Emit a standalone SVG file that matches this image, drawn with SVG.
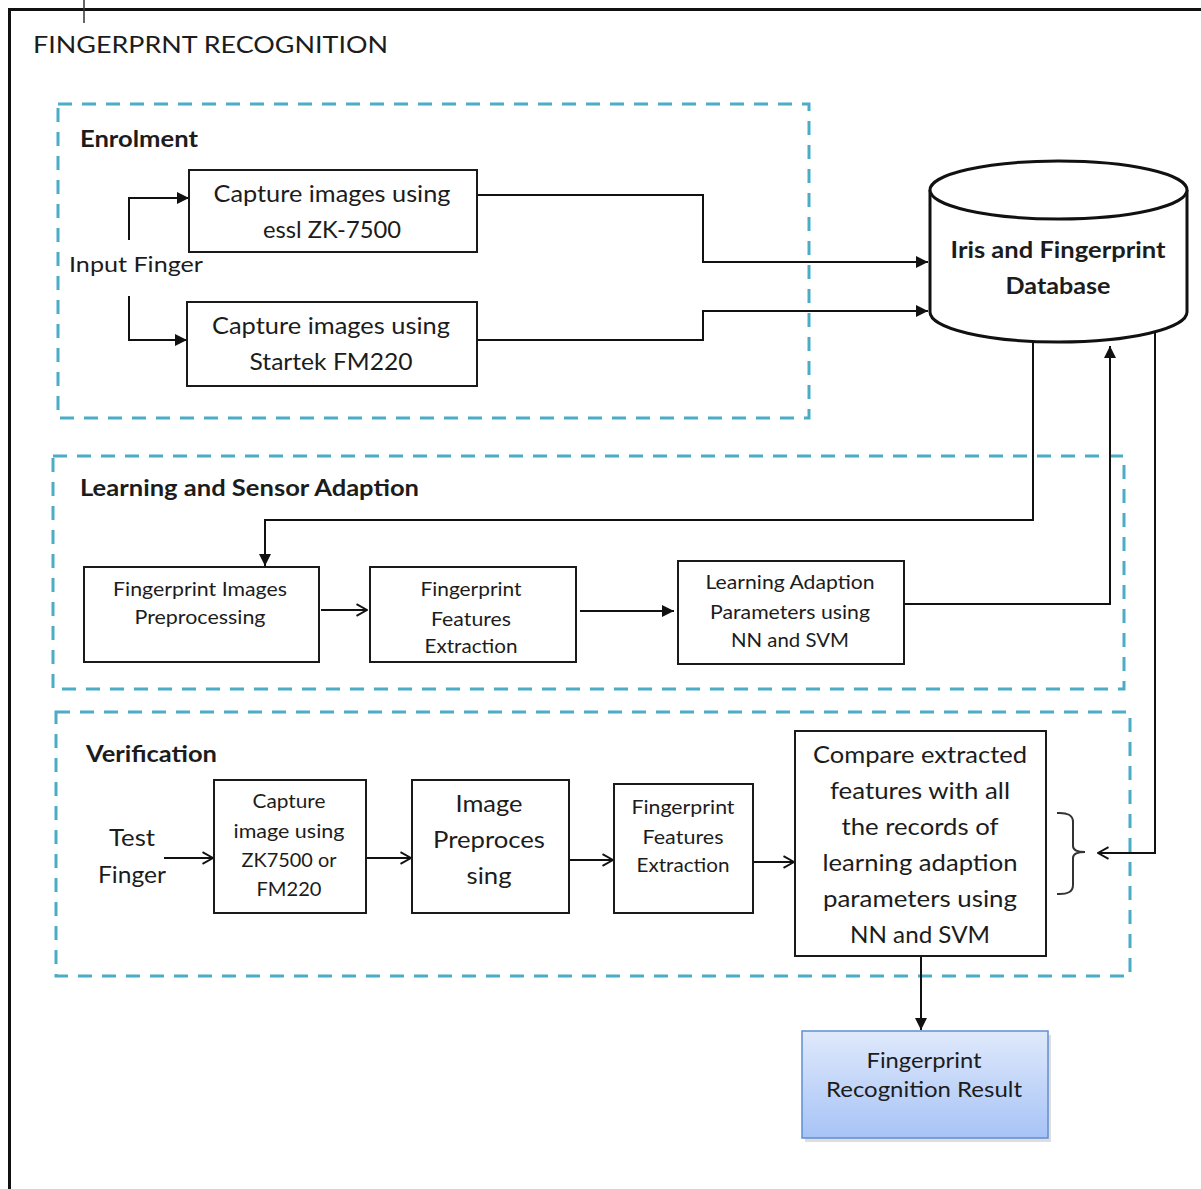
<svg xmlns="http://www.w3.org/2000/svg" width="1201" height="1189" viewBox="0 0 1201 1189">
<defs>
<style>
text{font-family:Lato,"Open Sans","Liberation Sans",sans-serif;fill:#1c1c1c}
.t{font-size:23px;text-anchor:middle}
.s{font-size:19px;text-anchor:middle}
.b{font-weight:bold;font-size:22px}
.box{fill:#fff;stroke:#1a1a1a;stroke-width:2}
.dash{fill:none;stroke:#4bacc6;stroke-width:3;stroke-dasharray:14 10}
.c{fill:none;stroke:#111;stroke-width:2}
</style>
<marker id="fa" viewBox="0 0 10 10" refX="10" refY="5" markerWidth="6" markerHeight="6" markerUnits="userSpaceOnUse" orient="auto"><path d="M0,0 L10,5 L0,10 z" fill="#111"/></marker>
<marker id="fa2" viewBox="0 0 10 10" refX="10" refY="5" markerWidth="14" markerHeight="12" markerUnits="userSpaceOnUse" orient="auto"><path d="M0,0 L10,5 L0,10 z" fill="#111"/></marker>
<marker id="oa" viewBox="0 0 12 12" refX="11" refY="6" markerWidth="14" markerHeight="14" markerUnits="userSpaceOnUse" orient="auto"><path d="M2,1 L11,6 L2,11" fill="none" stroke="#111" stroke-width="1.6"/></marker>
<linearGradient id="g" x1="0" y1="0" x2="0" y2="1"><stop offset="0" stop-color="#dfe9fb"/><stop offset="1" stop-color="#a7c3f6"/></linearGradient>
</defs>
<rect width="1201" height="1189" fill="#fff"/>
<path d="M9.5,1189 V9.5 H1201" fill="none" stroke="#111" stroke-width="3"/>
<line x1="84" y1="0" x2="84" y2="23" stroke="#333" stroke-width="1.5"/>
<text x="33" y="53" style="font-size:23px" textLength="355" lengthAdjust="spacingAndGlyphs">FINGERPRNT RECOGNITION</text>

<g id="groups">
<rect id="enrolment" class="dash" x="58" y="104" width="751" height="314"/>
<rect id="learning" class="dash" x="53" y="456" width="1071" height="233"/>
<rect id="verification" class="dash" x="56" y="712" width="1074" height="264"/>
<text x="80" y="147" class="b" textLength="118" lengthAdjust="spacingAndGlyphs">Enrolment</text>
<text x="80" y="496" class="b" textLength="339" lengthAdjust="spacingAndGlyphs">Learning and Sensor Adaption</text>
<text x="86" y="762" class="b" textLength="131" lengthAdjust="spacingAndGlyphs">Verification</text>
</g>

<g id="connectors">
<path class="c" d="M129,240 V198 H189" marker-end="url(#fa2)"/>
<path class="c" d="M129,296 V340 H187" marker-end="url(#fa2)"/>
<path class="c" d="M477,195 H703 V262 H928" marker-end="url(#fa2)"/>
<path class="c" d="M477,340 H703 V311 H928" marker-end="url(#fa2)"/>
<path class="c" d="M1033,342 V520 H265 V566" marker-end="url(#fa2)"/>
<path class="c" d="M905,604 H1110 V346" marker-end="url(#fa2)"/>
<path class="c" d="M1155,333 V853 H1098" marker-end="url(#oa)"/>
<path class="c" d="M321,610 H367" marker-end="url(#oa)"/>
<path class="c" d="M580,611 H674" marker-end="url(#fa2)"/>
<path class="c" d="M164,858 H213" marker-end="url(#oa)"/>
<path class="c" d="M366,858 H411" marker-end="url(#oa)"/>
<path class="c" d="M569,860 H613" marker-end="url(#oa)"/>
<path class="c" d="M753,862 H794" marker-end="url(#oa)"/>
<path class="c" d="M921,956 V1030" marker-end="url(#fa2)"/>
<path d="M1057,813 Q1073,812 1073,822 V846 Q1073,852 1085,852 Q1073,852 1073,858 V885 Q1073,895 1057,894" fill="none" stroke="#333" stroke-width="2"/>
</g>

<g id="input-finger"><text x="69" y="272" style="font-size:22px" textLength="134" lengthAdjust="spacingAndGlyphs">Input Finger</text></g>

<g id="capture-essl">
<rect class="box" x="189" y="170" width="288" height="82"/>
<text class="t" x="332" y="202" textLength="237" lengthAdjust="spacingAndGlyphs">Capture images using</text>
<text class="t" x="332" y="238" textLength="138" lengthAdjust="spacingAndGlyphs">essl ZK-7500</text>
</g>

<g id="capture-startek">
<rect class="box" x="187" y="302" width="290" height="84"/>
<text class="t" x="331" y="334" textLength="238" lengthAdjust="spacingAndGlyphs">Capture images using</text>
<text class="t" x="331" y="370" textLength="163" lengthAdjust="spacingAndGlyphs">Startek FM220</text>
</g>

<g id="database">
<path d="M930,190 V312 A128.5,30 0 0 0 1187,312 V190" fill="#fff" stroke="#111" stroke-width="3"/>
<ellipse cx="1058.5" cy="190" rx="128.5" ry="29" fill="#fff" stroke="#111" stroke-width="3"/>
<text x="1058" y="258" class="b" style="text-anchor:middle" textLength="215" lengthAdjust="spacingAndGlyphs">Iris and Fingerprint</text>
<text x="1058" y="294" class="b" style="text-anchor:middle" textLength="105" lengthAdjust="spacingAndGlyphs">Database</text>
</g>

<g id="fp-preprocessing">
<rect class="box" x="84" y="567" width="235" height="95"/>
<text class="s" x="200" y="596" textLength="174" lengthAdjust="spacingAndGlyphs">Fingerprint Images</text>
<text class="s" x="200" y="624" textLength="131" lengthAdjust="spacingAndGlyphs">Preprocessing</text>
</g>

<g id="fp-features">
<rect class="box" x="370" y="567" width="206" height="95"/>
<text class="s" x="471" y="596" textLength="101" lengthAdjust="spacingAndGlyphs">Fingerprint</text>
<text class="s" x="471" y="626" textLength="80" lengthAdjust="spacingAndGlyphs">Features</text>
<text class="s" x="471" y="653" textLength="93" lengthAdjust="spacingAndGlyphs">Extraction</text>
</g>

<g id="learning-params">
<rect class="box" x="678" y="561" width="226" height="103"/>
<text class="s" x="790" y="589" textLength="169" lengthAdjust="spacingAndGlyphs">Learning Adaption</text>
<text class="s" x="790" y="619" textLength="160" lengthAdjust="spacingAndGlyphs">Parameters using</text>
<text class="s" x="790" y="647" textLength="118" lengthAdjust="spacingAndGlyphs">NN and SVM</text>
</g>

<g id="test-finger">
<text class="t" x="132" y="846" textLength="46" lengthAdjust="spacingAndGlyphs">Test</text>
<text class="t" x="132" y="883" textLength="68" lengthAdjust="spacingAndGlyphs">Finger</text>
</g>

<g id="capture-test">
<rect class="box" x="214" y="780" width="152" height="133"/>
<text class="s" x="289" y="808" textLength="73" lengthAdjust="spacingAndGlyphs">Capture</text>
<text class="s" x="289" y="838" textLength="111" lengthAdjust="spacingAndGlyphs">image using</text>
<text class="s" x="289" y="867" textLength="95" lengthAdjust="spacingAndGlyphs">ZK7500 or</text>
<text class="s" x="289" y="896" textLength="65" lengthAdjust="spacingAndGlyphs">FM220</text>
</g>

<g id="image-preprocessing">
<rect class="box" x="412" y="780" width="157" height="133"/>
<text class="t" x="489" y="812" textLength="67" lengthAdjust="spacingAndGlyphs">Image</text>
<text class="t" x="489" y="848" textLength="112" lengthAdjust="spacingAndGlyphs">Preproces</text>
<text class="t" x="489" y="884" textLength="45" lengthAdjust="spacingAndGlyphs">sing</text>
</g>

<g id="features-test">
<rect class="box" x="614" y="784" width="139" height="129"/>
<text class="s" x="683" y="814" textLength="103" lengthAdjust="spacingAndGlyphs">Fingerprint</text>
<text class="s" x="683" y="844" textLength="81" lengthAdjust="spacingAndGlyphs">Features</text>
<text class="s" x="683" y="872" textLength="93" lengthAdjust="spacingAndGlyphs">Extraction</text>
</g>

<g id="compare">
<rect class="box" x="795" y="731" width="251" height="225"/>
<text class="t" x="920" y="763" textLength="214" lengthAdjust="spacingAndGlyphs">Compare extracted</text>
<text class="t" x="920" y="799" textLength="180" lengthAdjust="spacingAndGlyphs">features with all</text>
<text class="t" x="920" y="835" textLength="157" lengthAdjust="spacingAndGlyphs">the records of</text>
<text class="t" x="920" y="871" textLength="195" lengthAdjust="spacingAndGlyphs">learning adaption</text>
<text class="t" x="920" y="907" textLength="194" lengthAdjust="spacingAndGlyphs">parameters using</text>
<text class="t" x="920" y="943" textLength="140" lengthAdjust="spacingAndGlyphs">NN and SVM</text>
</g>

<g id="result">
<rect x="805" y="1035" width="246" height="107" fill="#c8c8c8" opacity="0.6"/>
<rect x="802" y="1031" width="246" height="107" fill="url(#g)" stroke="#5f8fd3" stroke-width="1.5"/>
<text class="s" style="font-size:21px" x="924" y="1068" textLength="115" lengthAdjust="spacingAndGlyphs">Fingerprint</text>
<text class="s" style="font-size:21px" x="924" y="1097" textLength="196" lengthAdjust="spacingAndGlyphs">Recognition Result</text>
</g>
</svg>
